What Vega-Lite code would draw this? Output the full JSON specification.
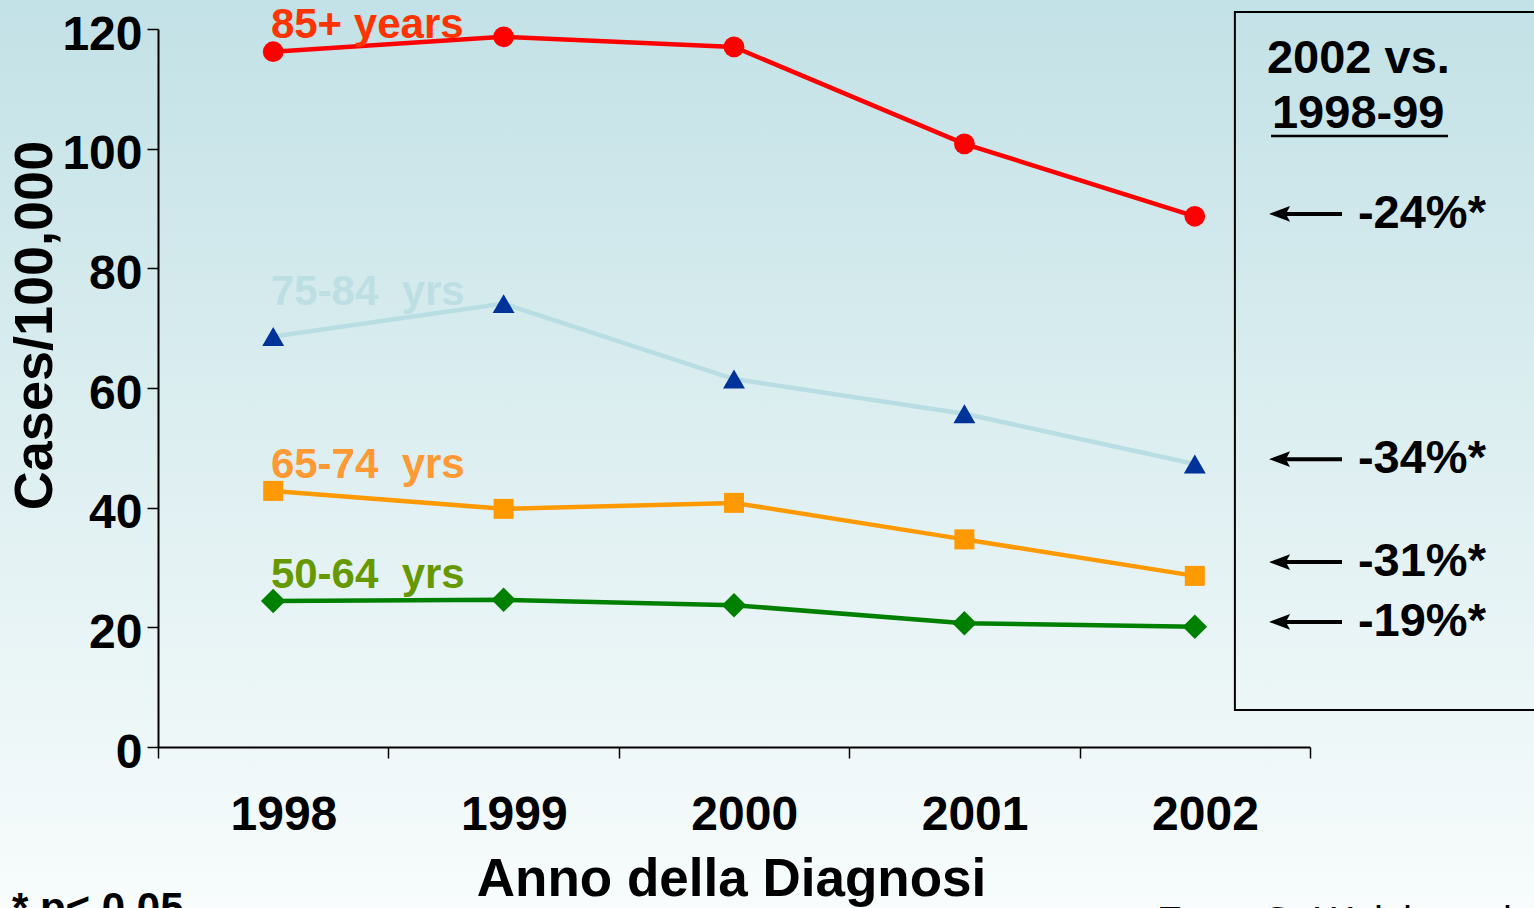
{
  "$schema": "https://vega.github.io/schema/vega-lite/v6.json",
  "width": 1152,
  "height": 718,
  "autosize": {"type": "none"},
  "padding": {"left": 158, "top": 29, "right": 224, "bottom": 161},
  "background": "#F0F8F9",
  "config": {
    "view": {"stroke": null},
    "font": "Liberation Sans",
    "text": {"font": "Liberation Sans"}
  },
  "datasets": {
    "series": [
      {"year": 1998, "group": "85+", "value": 116.2},
      {"year": 1999, "group": "85+", "value": 118.7},
      {"year": 2000, "group": "85+", "value": 117.0},
      {"year": 2001, "group": "85+", "value": 100.8},
      {"year": 2002, "group": "85+", "value": 88.7},
      {"year": 1998, "group": "75-84", "value": 68.6},
      {"year": 1999, "group": "75-84", "value": 74.1},
      {"year": 2000, "group": "75-84", "value": 61.5},
      {"year": 2001, "group": "75-84", "value": 55.7},
      {"year": 2002, "group": "75-84", "value": 47.3},
      {"year": 1998, "group": "65-74", "value": 42.8},
      {"year": 1999, "group": "65-74", "value": 39.8},
      {"year": 2000, "group": "65-74", "value": 40.8},
      {"year": 2001, "group": "65-74", "value": 34.7},
      {"year": 2002, "group": "65-74", "value": 28.6},
      {"year": 1998, "group": "50-64", "value": 24.4},
      {"year": 1999, "group": "50-64", "value": 24.6},
      {"year": 2000, "group": "50-64", "value": 23.7},
      {"year": 2001, "group": "50-64", "value": 20.7},
      {"year": 2002, "group": "50-64", "value": 20.1}
    ],
    "labels": [
      {"group": "85+", "label": "85+ years", "level": 118.5},
      {"group": "75-84", "label": "75-84\u00a0 yrs", "level": 73.9},
      {"group": "65-74", "label": "65-74\u00a0 yrs", "level": 45.0},
      {"group": "50-64", "label": "50-64\u00a0 yrs", "level": 26.6}
    ],
    "changes": [
      {"group": "85+", "pct": "-24%*", "level": 89.1},
      {"group": "75-84", "pct": "-34%*", "level": 48.1},
      {"group": "65-74", "pct": "-31%*", "level": 30.9},
      {"group": "50-64", "pct": "-19%*", "level": 20.9}
    ],
    "one": [{}]
  },
  "data": {"name": "series"},
  "layer": [
    {
      "data": {"name": "one"},
      "mark": {
        "type": "rect",
        "fill": {
          "gradient": "linear", "x1": 0, "y1": 0, "x2": 0, "y2": 1,
          "stops": [
            {"offset": 0, "color": "#C2E1E6"},
            {"offset": 0.5, "color": "#DEEFF1"},
            {"offset": 1, "color": "#F8FCFC"}
          ]
        }
      },
      "encoding": {
        "x": {"datum": 1996.7, "type": "quantitative"},
        "x2": {"datum": 2003.6},
        "y": {"datum": 126, "type": "quantitative"},
        "y2": {"datum": -28}
      }
    },
    {
      "data": {"name": "one"},
      "mark": {"type": "rect", "fill": null, "fillOpacity": 0, "stroke": "#000000", "strokeWidth": 2},
      "encoding": {
        "x": {"datum": 2002.174, "type": "quantitative"},
        "x2": {"datum": 2003.7},
        "y": {"datum": 122.85, "type": "quantitative"},
        "y2": {"datum": 6.18}
      }
    },
    {
      "mark": {"type": "line", "strokeWidth": 4.5},
      "encoding": {
        "x": {
          "field": "year", "type": "quantitative",
          "scale": {"domain": [1997.5, 2002.5], "nice": false, "zero": false},
          "axis": {
            "zindex": 2,
            "values": [1997.5, 1998.5, 1999.5, 2000.5, 2001.5, 2002.5],
            "labelExpr": "datum.value < 1998 ? '' : format(datum.value - 0.5, 'd')",
            "labelOffset": -105,
            "labelFlush": false,
            "labelOverlap": false,
            "labelBound": false,
            "labelFont": "Liberation Sans",
            "labelFontWeight": "bold",
            "labelFontSize": 48,
            "labelColor": "#000000",
            "labelPadding": 33,
            "labelBaseline": "top",
            "tickSize": 11,
            "tickColor": "#000000",
            "tickWidth": 1.5,
            "domainColor": "#000000",
            "domainWidth": 2,
            "grid": false,
            "title": "Anno della Diagnosi",
            "titleFont": "Liberation Sans",
            "titleFontWeight": "bold",
            "titleFontSize": 53,
            "titleColor": "#000000",
            "titleBaseline": "alphabetic",
            "titleX": 573,
            "titleY": 148
          }
        },
        "y": {
          "field": "value", "type": "quantitative",
          "scale": {"domain": [0, 120], "nice": false, "zero": true},
          "axis": {
            "zindex": 2,
            "values": [0, 20, 40, 60, 80, 100, 120],
            "labelFont": "Liberation Sans",
            "labelFontWeight": "bold",
            "labelFontSize": 48,
            "labelColor": "#000000",
            "labelPadding": 5,
            "labelOffset": 6,
            "labelFlush": false,
            "labelOverlap": false,
            "labelBound": false,
            "tickSize": 11,
            "tickColor": "#000000",
            "tickWidth": 1.5,
            "domainColor": "#000000",
            "domainWidth": 2,
            "grid": false,
            "title": "Cases/100,000",
            "titleFont": "Liberation Sans",
            "titleFontWeight": "bold",
            "titleFontSize": 54,
            "titleColor": "#000000",
            "titleAngle": 270,
            "titleBaseline": "alphabetic",
            "titleX": -107,
            "titleY": 296
          }
        },
        "stroke": {
          "field": "group", "type": "nominal",
          "scale": {"domain": ["85+", "75-84", "65-74", "50-64"], "range": ["#FF0000", "#B8DEE3", "#FF9900", "#008000"]},
          "legend": null
        },
        "detail": {"field": "group"}
      }
    },
    {
      "mark": {"type": "point", "filled": true, "opacity": 1, "strokeWidth": 0},
      "encoding": {
        "x": {"field": "year", "type": "quantitative"},
        "y": {"field": "value", "type": "quantitative"},
        "fill": {
          "field": "group", "type": "nominal",
          "scale": {"domain": ["85+", "75-84", "65-74", "50-64"], "range": ["#FF0000", "#003399", "#FF9900", "#008000"]},
          "legend": null
        },
        "shape": {
          "field": "group", "type": "nominal",
          "scale": {"domain": ["85+", "75-84", "65-74", "50-64"], "range": ["circle", "triangle-up", "square", "diamond"]},
          "legend": null
        },
        "size": {
          "field": "group", "type": "nominal",
          "scale": {"type": "ordinal", "domain": ["85+", "75-84", "65-74", "50-64"], "range": [430, 480, 400, 600]},
          "legend": null
        }
      }
    },
    {
      "data": {"name": "labels"},
      "mark": {"type": "text", "align": "left", "baseline": "alphabetic", "font": "Liberation Sans", "fontWeight": "bold", "fontSize": 42},
      "encoding": {
        "x": {"datum": 1997.99, "type": "quantitative"},
        "y": {"field": "level", "type": "quantitative"},
        "text": {"field": "label"},
        "color": {
          "field": "group", "type": "nominal",
          "scale": {"domain": ["85+", "75-84", "65-74", "50-64"], "range": ["#FF3300", "#BDDFE4", "#FF9933", "#669900"]},
          "legend": null
        }
      }
    },
    {
      "data": {"name": "one"},
      "mark": {"type": "text", "align": "left", "baseline": "alphabetic", "font": "Liberation Sans", "fontWeight": "bold", "fontSize": 47, "fill": "#000000", "text": "2002 vs."},
      "encoding": {
        "x": {"datum": 2002.313, "type": "quantitative"},
        "y": {"datum": 112.65, "type": "quantitative"}
      }
    },
    {
      "data": {"name": "one"},
      "mark": {"type": "text", "align": "left", "baseline": "alphabetic", "font": "Liberation Sans", "fontWeight": "bold", "fontSize": 47, "fill": "#000000", "text": "1998-99"},
      "encoding": {
        "x": {"datum": 2002.335, "type": "quantitative"},
        "y": {"datum": 103.46, "type": "quantitative"}
      }
    },
    {
      "data": {"name": "one"},
      "mark": {"type": "rule", "stroke": "#000000", "strokeWidth": 2.5},
      "encoding": {
        "x": {"datum": 2002.331, "type": "quantitative"},
        "x2": {"datum": 2003.099},
        "y": {"datum": 102.1, "type": "quantitative"}
      }
    },
    {
      "data": {"name": "changes"},
      "mark": {"type": "rule", "stroke": "#000000", "strokeWidth": 4},
      "encoding": {
        "x": {"datum": 2002.39, "type": "quantitative"},
        "x2": {"datum": 2002.639},
        "y": {"field": "level", "type": "quantitative"}
      }
    },
    {
      "data": {"name": "changes"},
      "mark": {"type": "point", "filled": true, "fill": "#000000", "strokeWidth": 0, "opacity": 1, "size": 441, "shape": "M -1 0 L 1 -0.75 L 0.6 0 L 1 0.75 Z"},
      "encoding": {
        "x": {"datum": 2002.368, "type": "quantitative"},
        "y": {"field": "level", "type": "quantitative"}
      }
    },
    {
      "data": {"name": "changes"},
      "mark": {"type": "text", "align": "left", "baseline": "middle", "font": "Liberation Sans", "fontWeight": "bold", "fontSize": 47, "fill": "#000000"},
      "encoding": {
        "x": {"datum": 2002.708, "type": "quantitative"},
        "y": {"field": "level", "type": "quantitative"},
        "text": {"field": "pct"}
      }
    },
    {
      "data": {"name": "one"},
      "mark": {"type": "text", "align": "left", "baseline": "alphabetic", "font": "Liberation Sans", "fontWeight": "bold", "fontSize": 42, "fill": "#000000", "text": "* p< 0.05"},
      "encoding": {
        "x": {"datum": 1996.866, "type": "quantitative"},
        "y": {"datum": -29.25, "type": "quantitative"}
      }
    },
    {
      "data": {"name": "one"},
      "mark": {"type": "text", "align": "left", "baseline": "alphabetic", "font": "Liberation Sans", "fontSize": 40, "fill": "#000000", "text": "From G. Welch et al., JCPR"},
      "encoding": {
        "x": {"datum": 2001.836, "type": "quantitative"},
        "y": {"datum": -31.4, "type": "quantitative"}
      }
    }
  ]
}
